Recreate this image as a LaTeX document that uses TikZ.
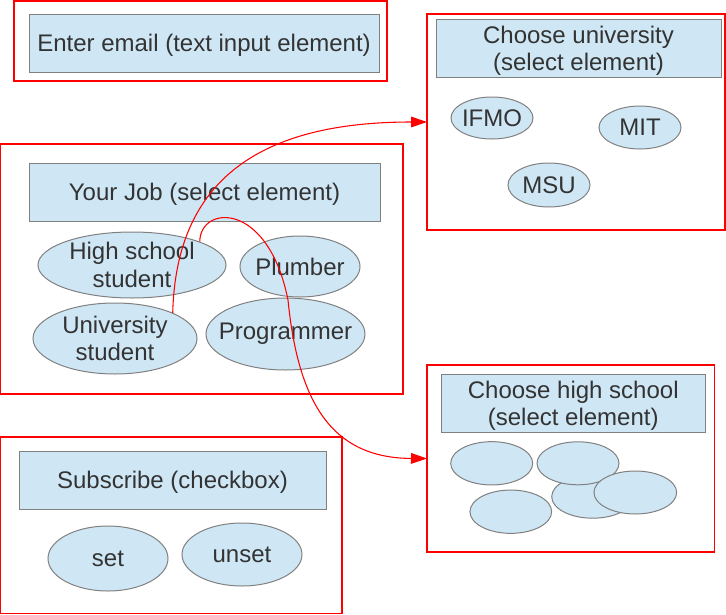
\documentclass[tikz,border=0pt]{standalone}
\usepackage{fontspec}
\setmainfont{Liberation Sans}
\usetikzlibrary{shapes.geometric,arrows.meta}
\definecolor{boxfill}{HTML}{CFE7F5}
\definecolor{boxline}{HTML}{808080}
\definecolor{txt}{HTML}{333333}
\definecolor{framered}{HTML}{FF0000}
\tikzset{
  frame/.style 2 args={rectangle, draw=framered, line width=0.8pt, fill=none,
    minimum width=#1*0.75pt, minimum height=#2*0.75pt, inner sep=0pt, outer sep=0pt},
  titlebox/.style 2 args={rectangle, draw=boxline, fill=boxfill, line width=0.75pt,
    minimum width=#1*0.75pt, minimum height=#2*0.75pt, inner sep=0pt},
  ell/.style 2 args={ellipse, draw=boxline, fill=boxfill, line width=0.75pt,
    minimum width=#1*0.75pt, minimum height=#2*0.75pt, inner sep=0pt},
  lab/.style={text=txt, align=center, font=\fontsize{18}{20.5}\selectfont, inner sep=0pt},
  tlab/.style={lab, yshift=-1.6pt},
  link/.style={draw=framered, line width=0.8pt, -{Triangle[length=12pt,width=8pt]}}
}
\begin{document}
\begin{tikzpicture}[x=0.75pt,y=-0.75pt]
\useasboundingbox (0,0) rectangle (726,615);

% email
\node[frame={373}{80}] (fe) at (200.5,41) {};
\node[titlebox={350}{58}, label={[tlab]center:Enter email (text input element)}] (te) at (204,43) {};

% job
\node[frame={402.5}{250}] (fj) at (201.75,269) {};
\node[titlebox={351}{58}, label={[tlab]center:Your Job (select element)}] (tj) at (204.5,192) {};
\node[ell={188}{66}, label={[lab]center:High school\\student}] (hs) at (132,265) {};
\node[ell={120}{61}, label={[lab]center:Plumber}] (pl) at (300,266.5) {};
\node[ell={164}{71}, label={[lab]center:University\\student}] (us) at (115,338.5) {};
\node[ell={159}{72}, label={[lab]center:Programmer}] (pr) at (285.5,334) {};

% university
\node[frame={298}{216}] (fu) at (576,122) {};
\node[titlebox={285}{58}, label={[tlab,yshift=-0.6pt]center:Choose university\\(select element)}] (tu) at (578.5,48) {};
\node[ell={82}{42}, label={[lab]center:IFMO}] (ifmo) at (492,118) {};
\node[ell={82}{43}, label={[lab]center:MIT}] (mit) at (640,127.5) {};
\node[ell={82}{44}, label={[lab]center:MSU}] (msu) at (549,185) {};

% high school
\node[frame={287.5}{187}] (fh) at (570.75,458.5) {};
\node[titlebox={264.5}{58}, label={[tlab,yshift=-0.6pt]center:Choose high school\\(select element)}] (th) at (573.25,403) {};
\node[ell={82}{43}] (h3) at (592.7,496.7) {};
\node[ell={82}{43}] (h2) at (578,463.3) {};
\node[ell={82.7}{43}] (h4) at (635.3,492.5) {};
\node[ell={82}{43.3}] (h1) at (491.7,463.3) {};
\node[ell={81.7}{43.3}] (h5) at (510.8,511.7) {};

% subscribe
\node[frame={341.5}{176.5}] (fs) at (171.25,525.25) {};
\node[titlebox={307}{58}, label={[tlab]center:Subscribe (checkbox)}] (ts) at (172.5,480) {};
\node[ell={120}{65}, label={[lab]center:set}] (set) at (108,558.5) {};
\node[ell={120}{63}, label={[lab]center:unset}] (unset) at (242,554.5) {};

% connectors
\coordinate (bend) at (288,300);
\draw[link] (us.24) .. controls (176,180) and (260,122) .. (fu.west);
\draw[link] (hs.19) .. controls (200,205) and (268,200) .. (bend)
  .. controls (298,400) and (330,458) .. (fh.west);
\end{tikzpicture}
\end{document}
